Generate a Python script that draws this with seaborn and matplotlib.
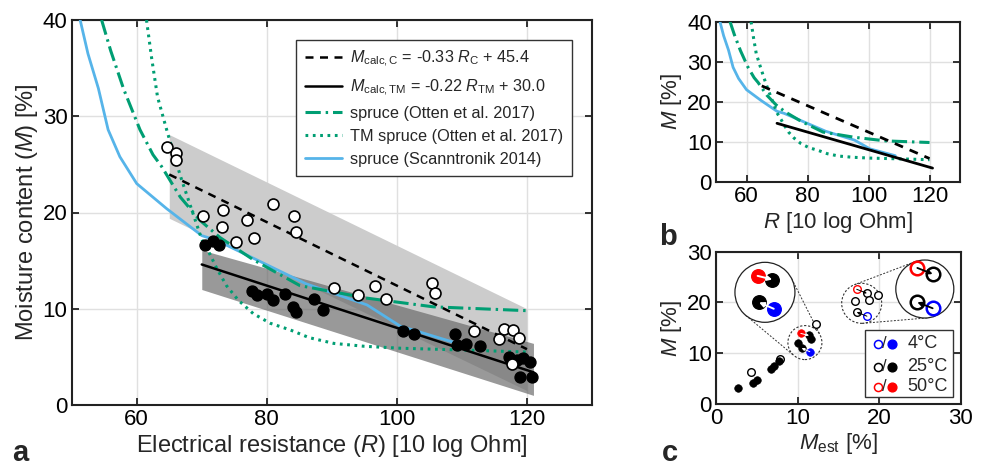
import numpy as np
import matplotlib
matplotlib.use('Agg')
import matplotlib.pyplot as plt
import seaborn as sns
from matplotlib.lines import Line2D
from matplotlib.patches import Ellipse, Rectangle

# ---------------- data ----------------
# Panel a / b curves
R_scan = [51.3, 52.5, 54.1, 55.6, 57.4, 60.0, 64.6, 70.0, 72.3, 79.0, 86.0, 95.4, 100.5, 108.8]
M_scan = [40.0, 36.5, 32.9, 28.6, 25.8, 23.0, 20.4, 17.6, 17.1, 14.9, 12.6, 10.4, 8.2, 6.5]

R_otten = [54.6, 56.0, 58.0, 60.5, 62.5, 63.8, 66.7, 69.7, 72.8, 77.9, 85.1, 95.4, 105.6, 120.0]
M_otten = [40.0, 36.8, 32.8, 28.6, 26.0, 24.8, 21.6, 19.2, 17.4, 15.1, 12.4, 11.1, 10.2, 9.8]

R_tm_otten = [61.5, 62.3, 63.2, 64.6, 65.8, 66.9, 68.0, 69.0, 70.0, 71.3, 72.3, 73.8, 75.6,
              77.9, 80.5, 83.6, 86.5, 90.3, 95.0, 100.5, 110.8, 120.0]
M_tm_otten = [40.0, 36.0, 32.0, 28.6, 25.8, 23.4, 21.2, 19.2, 17.2, 15.6, 14.2, 12.4, 10.9,
              9.5, 8.5, 7.8, 7.0, 6.4, 6.1, 5.9, 5.7, 5.5]

R_fitC = [65.0, 120.0]
M_fitC = [23.95, 5.8]
R_fitTM = [70.0, 121.0]
M_fitTM = [14.6, 3.4]

# prediction bands
band_C_R = [65.0, 120.0]
band_C_up = [28.1, 10.0]
band_C_lo = [19.4, 1.5]
band_TM_R = [70.0, 121.0]
band_TM_up = [16.1, 6.4]
band_TM_lo = [12.0, 1.0]

# calibration points (open) and TM points (filled)
C_R = [64.6, 66.0, 66.1, 70.2, 73.2, 73.1, 77.0, 75.2, 78.0, 80.9, 84.2, 84.5, 90.4, 94.0,
       96.6, 98.3, 105.4, 105.9, 111.8, 116.4, 117.9, 115.7, 118.8, 117.7]
C_M = [26.85, 26.2, 25.5, 19.6, 20.3, 18.5, 19.2, 16.9, 17.3, 20.9, 19.6, 18.0, 12.2, 11.4,
       12.4, 11.0, 12.65, 11.6, 7.7, 7.9, 7.8, 6.9, 7.0, 4.3]
TM_R = [70.5, 71.7, 72.6, 77.7, 78.5, 80.1, 80.9, 82.8, 84.1, 84.5, 87.2, 88.7, 100.9, 102.6,
        109.0, 109.2, 110.6, 112.8, 117.2, 118.0, 118.5, 119.4, 120.4, 118.9, 120.8]
TM_M = [16.6, 17.0, 16.6, 11.85, 11.4, 11.5, 10.9, 11.5, 10.2, 9.7, 11.0, 9.9, 7.7, 7.4,
        7.4, 6.2, 6.3, 6.1, 5.0, 4.5, 4.7, 4.85, 4.5, 2.9, 2.9]

# Panel c
c_open_k_x = [4.25, 7.8, 12.3, 17.05, 18.5, 18.7, 19.9, 17.25]
c_open_k_y = [6.4, 8.8, 15.7, 20.35, 21.8, 20.5, 21.5, 18.1]
c_open_r_x = [17.25]
c_open_r_y = [22.6]
c_open_b_x = [18.5]
c_open_b_y = [17.3]
c_fill_k_x = [2.7, 4.5, 5.0, 6.7, 7.1, 7.7, 10.1, 10.5, 11.4, 11.7]
c_fill_k_y = [3.2, 4.1, 4.7, 6.9, 7.5, 8.5, 12.0, 11.0, 13.6, 12.8]
c_fill_r_x = [10.4]
c_fill_r_y = [13.9]
c_fill_b_x = [11.5]
c_fill_b_y = [10.3]

# temperature-correction arrows: (from coloured point to 25 degC point)
arr_mid_src = [(10.4, 13.9), (11.5, 10.3)]
arr_mid_dst = [(11.4, 13.5), (10.5, 11.0)]
arr_mid_col = ['red', 'blue']
arr_rt_src = [(17.25, 22.6), (18.5, 17.3)]
arr_rt_dst = [(18.5, 21.8), (17.25, 18.1)]
arr_rt_col = ['red', 'blue']

clusters = [(10.9, 12.1), (17.86, 19.83)]   # zoomed clusters (data coords)
insets = [(6.0, 22.0), (25.6, 22.65)]        # inset centres (data coords)

# ---------------- style ----------------
sns.set_theme(style='ticks')
plt.rcParams['font.family'] = ['Liberation Sans', 'DejaVu Sans']
plt.rcParams['mathtext.fontset'] = 'custom'
plt.rcParams['mathtext.rm'] = 'Liberation Sans'
plt.rcParams['mathtext.it'] = 'Liberation Sans:italic'
plt.rcParams['mathtext.bf'] = 'Liberation Sans:bold'

GREEN = '#009E73'
BLUE = '#56B4E9'
FS_TICK = 16
FS_LAB_A = 17
FS_LAB = 16

fig = plt.figure(figsize=(9.84, 4.70), dpi=100)
W, H = 984.0, 470.0
axA = fig.add_axes([71.7 / W, 65 / H, 520.3 / W, 385 / H])
axB = fig.add_axes([716 / W, (H - 181.7) / H, 244 / W, 160 / H])
axC = fig.add_axes([716 / W, 66 / H, 244.7 / W, 152.3 / H])


def style(ax):
    ax.grid(True, color='#e0e0e0', lw=1.0)
    ax.set_axisbelow(True)
    for s in ax.spines.values():
        s.set_visible(True)
        s.set_linewidth(1.5)
        s.set_color('#222222')
    ax.tick_params(direction='in', top=True, right=True, length=5, width=1.3,
                   labelsize=FS_TICK, pad=3, color='#222222', labelcolor='black')


LS_C = (0, (3.2, 2.6))
LS_DD = (0, (5.0, 1.6, 0.8, 1.6))
LS_DOT = (0, (0.9, 1.5))


def draw_lines(ax, lwk=1.8):
    sns.lineplot(x=R_scan, y=M_scan, ax=ax, sort=False, estimator=None, color=BLUE, lw=2.0, zorder=3)
    sns.lineplot(x=R_otten, y=M_otten, ax=ax, sort=False, estimator=None, color=GREEN, lw=2.2,
                 linestyle=LS_DD, zorder=3)
    sns.lineplot(x=R_tm_otten, y=M_tm_otten, ax=ax, sort=False, estimator=None, color=GREEN, lw=2.2,
                 linestyle=LS_DOT, zorder=3)
    sns.lineplot(x=R_fitC, y=M_fitC, ax=ax, sort=False, estimator=None, color='black', lw=lwk,
                 linestyle=LS_C, zorder=4)
    sns.lineplot(x=R_fitTM, y=M_fitTM, ax=ax, sort=False, estimator=None, color='black', lw=lwk, zorder=4)


# ---------------- panel a ----------------
style(axA)
axA.fill_between(band_C_R, band_C_lo, band_C_up, color='#cccccc', lw=0, zorder=1)
axA.fill_between(band_TM_R, band_TM_lo, band_TM_up, color='#666666', alpha=0.667, lw=0, zorder=1.5)
draw_lines(axA)
sns.scatterplot(x=TM_R, y=TM_M, ax=axA, color='black', edgecolor='black', linewidth=1.0, s=62,
                zorder=5, legend=False)
sns.scatterplot(x=C_R, y=C_M, ax=axA, color='white', edgecolor='black', linewidth=1.2, s=62,
                zorder=6, legend=False)
axA.set_xlim(50, 130)
axA.set_ylim(0, 40)
axA.set_xticks([60, 80, 100, 120])
axA.set_yticks([0, 10, 20, 30, 40])
axA.set_xlabel('Electrical resistance ($R$) [10 log Ohm]', fontsize=FS_LAB_A, labelpad=2)
axA.set_ylabel('Moisture content ($M$) [%]', fontsize=FS_LAB_A, labelpad=2)

handles = [
    Line2D([], [], color='black', lw=1.8, linestyle=LS_C),
    Line2D([], [], color='black', lw=1.8),
    Line2D([], [], color=GREEN, lw=2.2, linestyle=LS_DD),
    Line2D([], [], color=GREEN, lw=2.2, linestyle=LS_DOT),
    Line2D([], [], color=BLUE, lw=2.0),
]
labels = [
    r'$M_{\mathrm{calc,C}}$ = -0.33 $R_{\mathrm{C}}$ + 45.4',
    r'$M_{\mathrm{calc,TM}}$ = -0.22 $R_{\mathrm{TM}}$ + 30.0',
    'spruce (Otten et al. 2017)',
    'TM spruce (Otten et al. 2017)',
    'spruce (Scanntronik 2014)',
]
leg = axA.legend(handles, labels, loc='upper right', bbox_to_anchor=(0.962, 0.948), borderaxespad=0,
                 fontsize=11.7, frameon=True, fancybox=False, edgecolor='#333333', framealpha=1,
                 handlelength=2.3, handletextpad=0.5, labelspacing=0.5, borderpad=0.55)
leg.get_frame().set_linewidth(1.0)
leg.set_zorder(10)

# ---------------- panel b ----------------
style(axB)
draw_lines(axB, lwk=2.0)
axB.set_xlim(50, 130)
axB.set_ylim(0, 40)
axB.set_xticks([60, 80, 100, 120])
axB.set_yticks([0, 10, 20, 30, 40])
axB.set_xlabel('$R$ [10 log Ohm]', fontsize=FS_LAB, labelpad=2)
axB.set_ylabel('$M$ [%]', fontsize=FS_LAB, labelpad=2)

# ---------------- panel c ----------------
style(axC)
axC.set_xlim(0, 30)
axC.set_ylim(0, 30)
axC.set_xticks([0, 10, 20, 30])
axC.set_yticks([0, 10, 20, 30])
axC.set_xlabel('$M_{\\mathrm{est}}$ [%]', fontsize=FS_LAB, labelpad=1)
axC.set_ylabel('$M$ [%]', fontsize=FS_LAB, labelpad=2)

MS = 30
sns.scatterplot(x=c_fill_r_x, y=c_fill_r_y, ax=axC, color='red', edgecolor='red', s=MS, zorder=4, legend=False)
sns.scatterplot(x=c_fill_b_x, y=c_fill_b_y, ax=axC, color='blue', edgecolor='blue', s=MS, zorder=4, legend=False)
sns.scatterplot(x=c_fill_k_x, y=c_fill_k_y, ax=axC, color='black', edgecolor='black', s=MS, zorder=4.5, legend=False)
sns.scatterplot(x=c_open_k_x, y=c_open_k_y, ax=axC, color='white', edgecolor='black', linewidth=1.0, s=MS, zorder=4, legend=False)
sns.scatterplot(x=c_open_r_x, y=c_open_r_y, ax=axC, color='white', edgecolor='red', linewidth=1.0, s=MS, zorder=4, legend=False)
sns.scatterplot(x=c_open_b_x, y=c_open_b_y, ax=axC, color='white', edgecolor='blue', linewidth=1.0, s=MS, zorder=4, legend=False)


def arrow(ax, src, dst, col, lw, ms, z):
    ax.annotate('', xy=dst, xytext=src, zorder=z,
                arrowprops=dict(arrowstyle='-|>', color=col, lw=lw, shrinkA=0, shrinkB=0,
                                mutation_scale=ms))


for s_, d_ in zip(arr_mid_src, arr_mid_dst):
    arrow(axC, s_, d_, 'white', 0.7, 4, 5)
for s_, d_ in zip(arr_rt_src, arr_rt_dst):
    arrow(axC, s_, d_, 'black', 0.7, 4, 5)

# pixel scaling of panel c
posC = axC.get_position()
sx = posC.width * W / 30.0
sy = posC.height * H / 30.0


def to_px(p):
    return np.array([p[0] * sx, p[1] * sy])


def from_px(q):
    return (q[0] / sx, q[1] / sy)


def ext_tangents(c1, r1, c2, r2):
    d = c2 - c1
    D = np.hypot(*d)
    th = np.arctan2(d[1], d[0])
    a = np.arccos((r1 - r2) / D)
    res = []
    for sgn in (1, -1):
        phi = th + sgn * a
        n = np.array([np.cos(phi), np.sin(phi)])
        res.append((c1 + r1 * n, c2 + r2 * n))
    return res


clus_r = [17.0, 20.0]
inset_r = [30.0, 29.0]
mags = [1.8, 1.5]
pairs = [(arr_mid_src, arr_mid_dst, arr_mid_col, True), (arr_rt_src, arr_rt_dst, arr_rt_col, False)]

for i in range(2):
    cc = to_px(clusters[i])
    ic = to_px(insets[i])
    axC.add_patch(Ellipse(clusters[i], 2 * clus_r[i] / sx, 2 * clus_r[i] / sy, fill=False,
                          ec='#333333', lw=0.8, ls=(0, (2.0, 1.6)), zorder=3))
    for p1, p2 in ext_tangents(ic, inset_r[i], cc, clus_r[i]):
        a1, a2 = from_px(p1), from_px(p2)
        axC.plot([a1[0], a2[0]], [a1[1], a2[1]], color='#333333', lw=0.7, ls=(0, (2.0, 1.6)), zorder=3)
    axC.add_patch(Ellipse(insets[i], 2 * inset_r[i] / sx, 2 * inset_r[i] / sy, fc='white',
                          ec='#222222', lw=0.9, zorder=6))
    src, dst, cols, filled = pairs[i]
    for s_, d_, col in zip(src, dst, cols):
        ps = from_px(ic + mags[i] * (to_px(s_) - cc))
        pd_ = from_px(ic + mags[i] * (to_px(d_) - cc))
        if filled:
            axC.scatter([ps[0]], [ps[1]], s=95, color=col, edgecolor=col, zorder=7)
            axC.scatter([pd_[0]], [pd_[1]], s=95, color='black', edgecolor='black', zorder=7.5)
            arrow(axC, ps, pd_, 'white', 1.4, 7, 8)
        else:
            axC.scatter([ps[0]], [ps[1]], s=95, color='white', edgecolor=col, linewidth=1.8, zorder=7)
            axC.scatter([pd_[0]], [pd_[1]], s=95, color='white', edgecolor='black', linewidth=1.8, zorder=7.5)
            arrow(axC, ps, pd_, 'black', 1.3, 7, 8)

# legend of panel c (drawn manually)
axC.add_patch(Rectangle((0.609, 0.048), 0.361, 0.438, transform=axC.transAxes, fc='white',
                        ec='#333333', lw=1.0, zorder=9))
leg_cols = ['blue', 'black', 'red']
leg_txt = ['4°C', '25°C', '50°C']
leg_y = [0.394, 0.245, 0.113]
for col, txt, yy in zip(leg_cols, leg_txt, leg_y):
    axC.scatter([0.661], [yy], s=34, color='white', edgecolor=col, linewidth=1.1,
                transform=axC.transAxes, zorder=10, clip_on=False)
    axC.text(0.689, yy, '/', transform=axC.transAxes, fontsize=12, ha='center', va='center', zorder=10)
    axC.scatter([0.718], [yy], s=40, color=col, edgecolor=col, transform=axC.transAxes,
                zorder=10, clip_on=False)
    axC.text(0.782, yy, txt, transform=axC.transAxes, fontsize=13, ha='left', va='center', zorder=10)

# panel letters
fig.text(0.012, 0.02, 'a', fontsize=21, fontweight='bold', va='baseline')
fig.text(0.670, 0.478, 'b', fontsize=21, fontweight='bold', va='baseline')
fig.text(0.673, 0.02, 'c', fontsize=21, fontweight='bold', va='baseline')

fig.savefig('out.png', dpi=100)
